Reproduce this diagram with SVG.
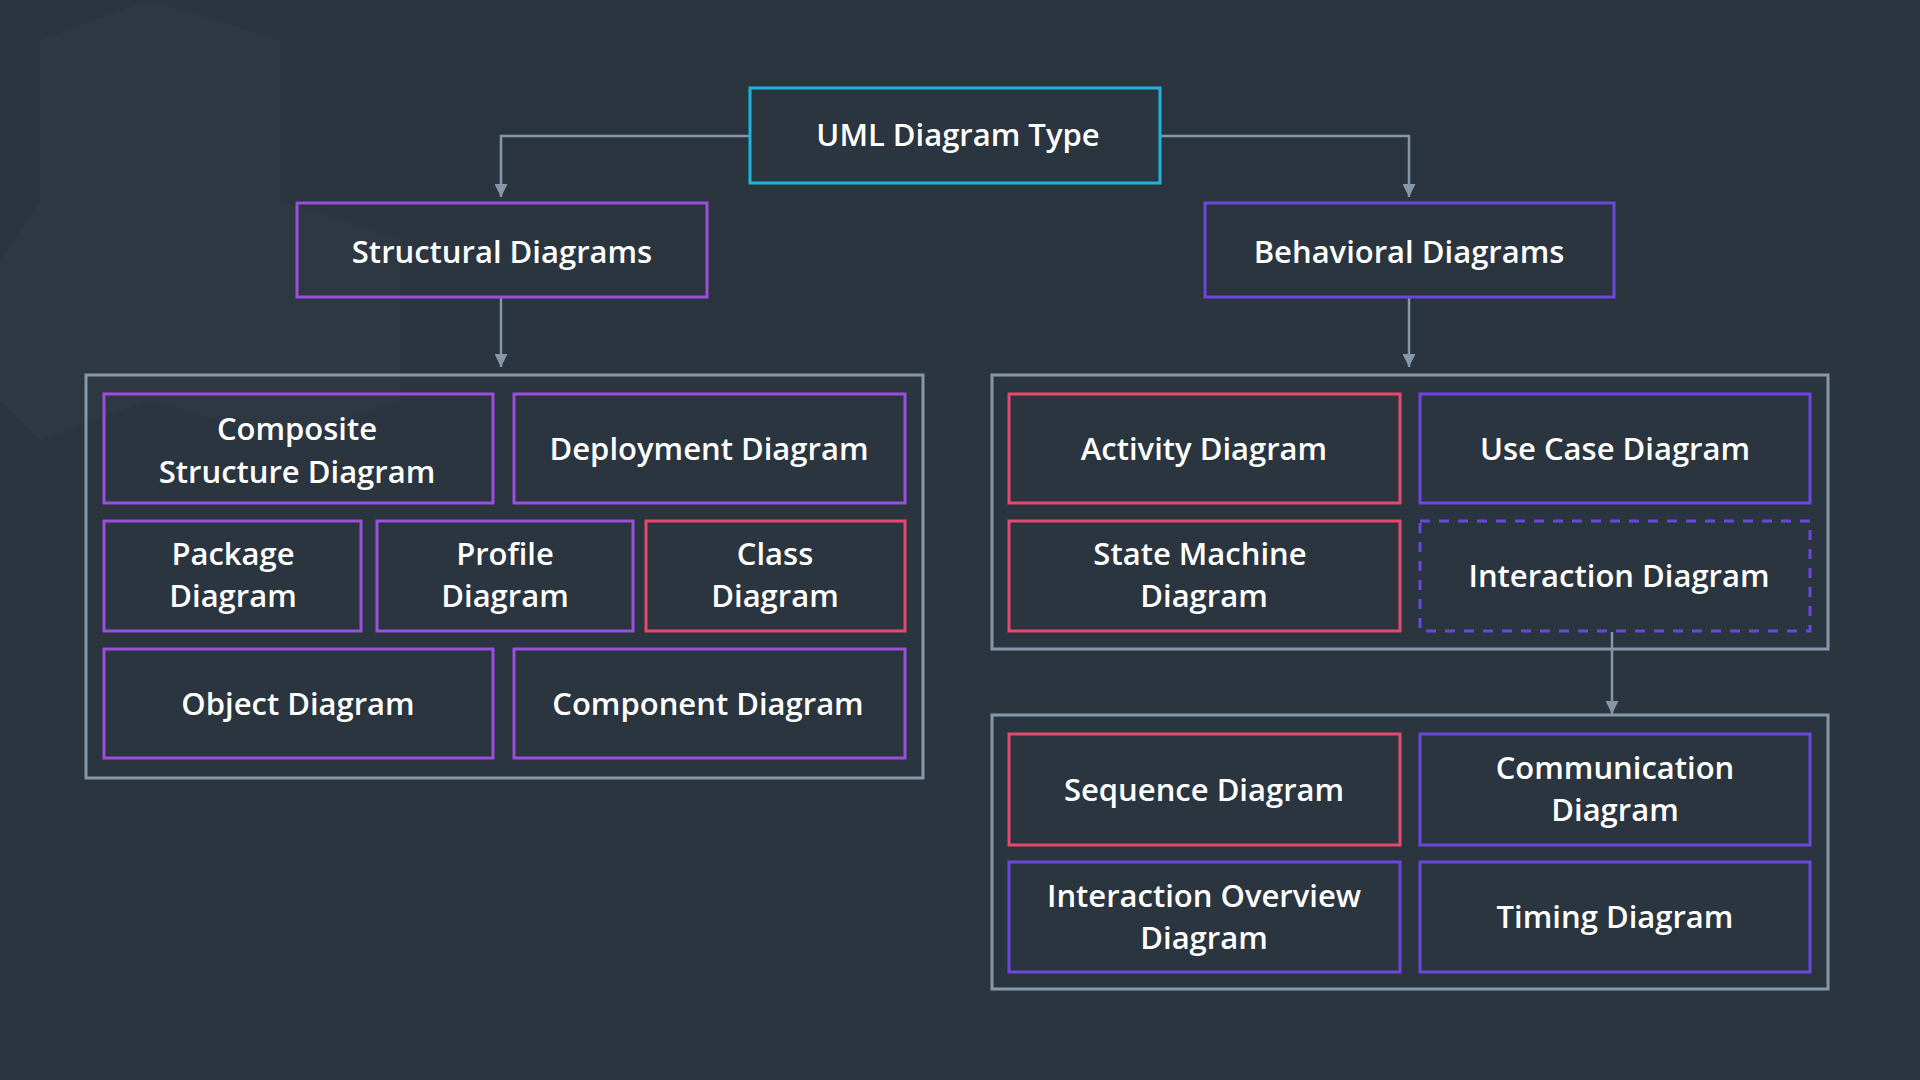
<svg xmlns="http://www.w3.org/2000/svg" width="1920" height="1080" viewBox="0 0 1920 1080">
<defs>
<style>
.bg{fill:#2a3540}
.box{fill:none;stroke-width:3}
.cy{stroke:#1eb3dc}
.pu{stroke:#9b4fdc}
.vi{stroke:#6c47dd}
.rd{stroke:#e5496f}
.dash{stroke-dasharray:10 9}
.ct{fill:none;stroke:#8597a9;stroke-width:3}
.cn{fill:none;stroke:#8597a9;stroke-width:2.5}
text{font-family:"Open Sans","Noto Sans","Liberation Sans",sans-serif;font-weight:600;font-size:31px;fill:#ffffff;text-anchor:middle}
.deco{fill:#ffffff;opacity:0.02}
</style>
<marker id="ah" markerUnits="userSpaceOnUse" markerWidth="13" markerHeight="13" viewBox="0 0 13 13" refX="13" refY="6.5" orient="auto">
<path d="M0,0 L13,6.5 L0,13 Z" fill="#8597a9"/>
</marker>
</defs>
<rect class="bg" x="0" y="0" width="1920" height="1080"/>
<g id="background-pattern">
<polygon class="deco" points="40,40 150,0 280,40 280,200 150,240 40,200"/>
<polygon class="deco" points="150,240 280,200 400,240 400,400 280,440 150,400"/>
<polygon class="deco" points="0,260 40,200 150,240 150,400 40,440 0,400"/>
</g>
<g id="connectors">
<path class="cn" d="M750,136 H501 V197" marker-end="url(#ah)"/>
<path class="cn" d="M1160,136 H1409 V197" marker-end="url(#ah)"/>
<path class="cn" d="M501,297 V367" marker-end="url(#ah)"/>
<path class="cn" d="M1409,297 V367" marker-end="url(#ah)"/>
<path class="cn" d="M1612,632 V714" marker-end="url(#ah)"/>
</g>
<g id="containers">
<rect id="structural-group" class="ct" x="86" y="375" width="837" height="403"/>
<rect id="behavioral-group" class="ct" x="992" y="375" width="836" height="274"/>
<rect id="interaction-group" class="ct" x="992" y="715" width="836" height="274"/>
</g>
<g id="uml-diagram-type">
<rect class="box cy" x="750" y="88" width="410" height="95"/>
<text x="958" y="146">UML Diagram Type</text>
</g>
<g id="structural-diagrams">
<rect class="box pu" x="297" y="203" width="410" height="94"/>
<text x="502" y="263">Structural Diagrams</text>
</g>
<g id="behavioral-diagrams">
<rect class="box vi" x="1205" y="203" width="409" height="94"/>
<text x="1409" y="263">Behavioral Diagrams</text>
</g>
<g id="composite-structure-diagram">
<rect class="box pu" x="104" y="394" width="389" height="109"/>
<text x="297" y="440">Composite<tspan x="297" y="482.5">Structure Diagram</tspan></text>
</g>
<g id="deployment-diagram">
<rect class="box pu" x="514" y="394" width="391" height="109"/>
<text x="709" y="460">Deployment Diagram</text>
</g>
<g id="package-diagram">
<rect class="box pu" x="104" y="521" width="257" height="110"/>
<text x="233" y="564.5">Package<tspan x="233" y="607">Diagram</tspan></text>
</g>
<g id="profile-diagram">
<rect class="box pu" x="377" y="521" width="256" height="110"/>
<text x="505" y="564.5">Profile<tspan x="505" y="607">Diagram</tspan></text>
</g>
<g id="class-diagram">
<rect class="box rd" x="646" y="521" width="259" height="110"/>
<text x="775" y="564.5">Class<tspan x="775" y="607">Diagram</tspan></text>
</g>
<g id="object-diagram">
<rect class="box pu" x="104" y="649" width="389" height="109"/>
<text x="298" y="715">Object Diagram</text>
</g>
<g id="component-diagram">
<rect class="box pu" x="514" y="649" width="391" height="109"/>
<text x="708" y="715">Component Diagram</text>
</g>
<g id="activity-diagram">
<rect class="box rd" x="1009" y="394" width="391" height="109"/>
<text x="1204" y="460">Activity Diagram</text>
</g>
<g id="use-case-diagram">
<rect class="box vi" x="1420" y="394" width="390" height="109"/>
<text x="1615" y="460">Use Case Diagram</text>
</g>
<g id="state-machine-diagram">
<rect class="box rd" x="1009" y="521" width="391" height="110"/>
<text x="1200" y="564.5">State Machine<tspan x="1204" y="607">Diagram</tspan></text>
</g>
<g id="interaction-diagram">
<rect class="box vi dash" x="1420" y="521" width="390" height="110"/>
<text x="1619" y="587">Interaction Diagram</text>
</g>
<g id="sequence-diagram">
<rect class="box rd" x="1009" y="734" width="391" height="111"/>
<text x="1204" y="801">Sequence Diagram</text>
</g>
<g id="communication-diagram">
<rect class="box vi" x="1420" y="734" width="390" height="111"/>
<text x="1615" y="778.5">Communication<tspan x="1615" y="821">Diagram</tspan></text>
</g>
<g id="interaction-overview-diagram">
<rect class="box vi" x="1009" y="862" width="391" height="110"/>
<text x="1204" y="906.5">Interaction Overview<tspan x="1204" y="949">Diagram</tspan></text>
</g>
<g id="timing-diagram">
<rect class="box vi" x="1420" y="862" width="390" height="110"/>
<text x="1615" y="928">Timing Diagram</text>
</g>
</svg>
